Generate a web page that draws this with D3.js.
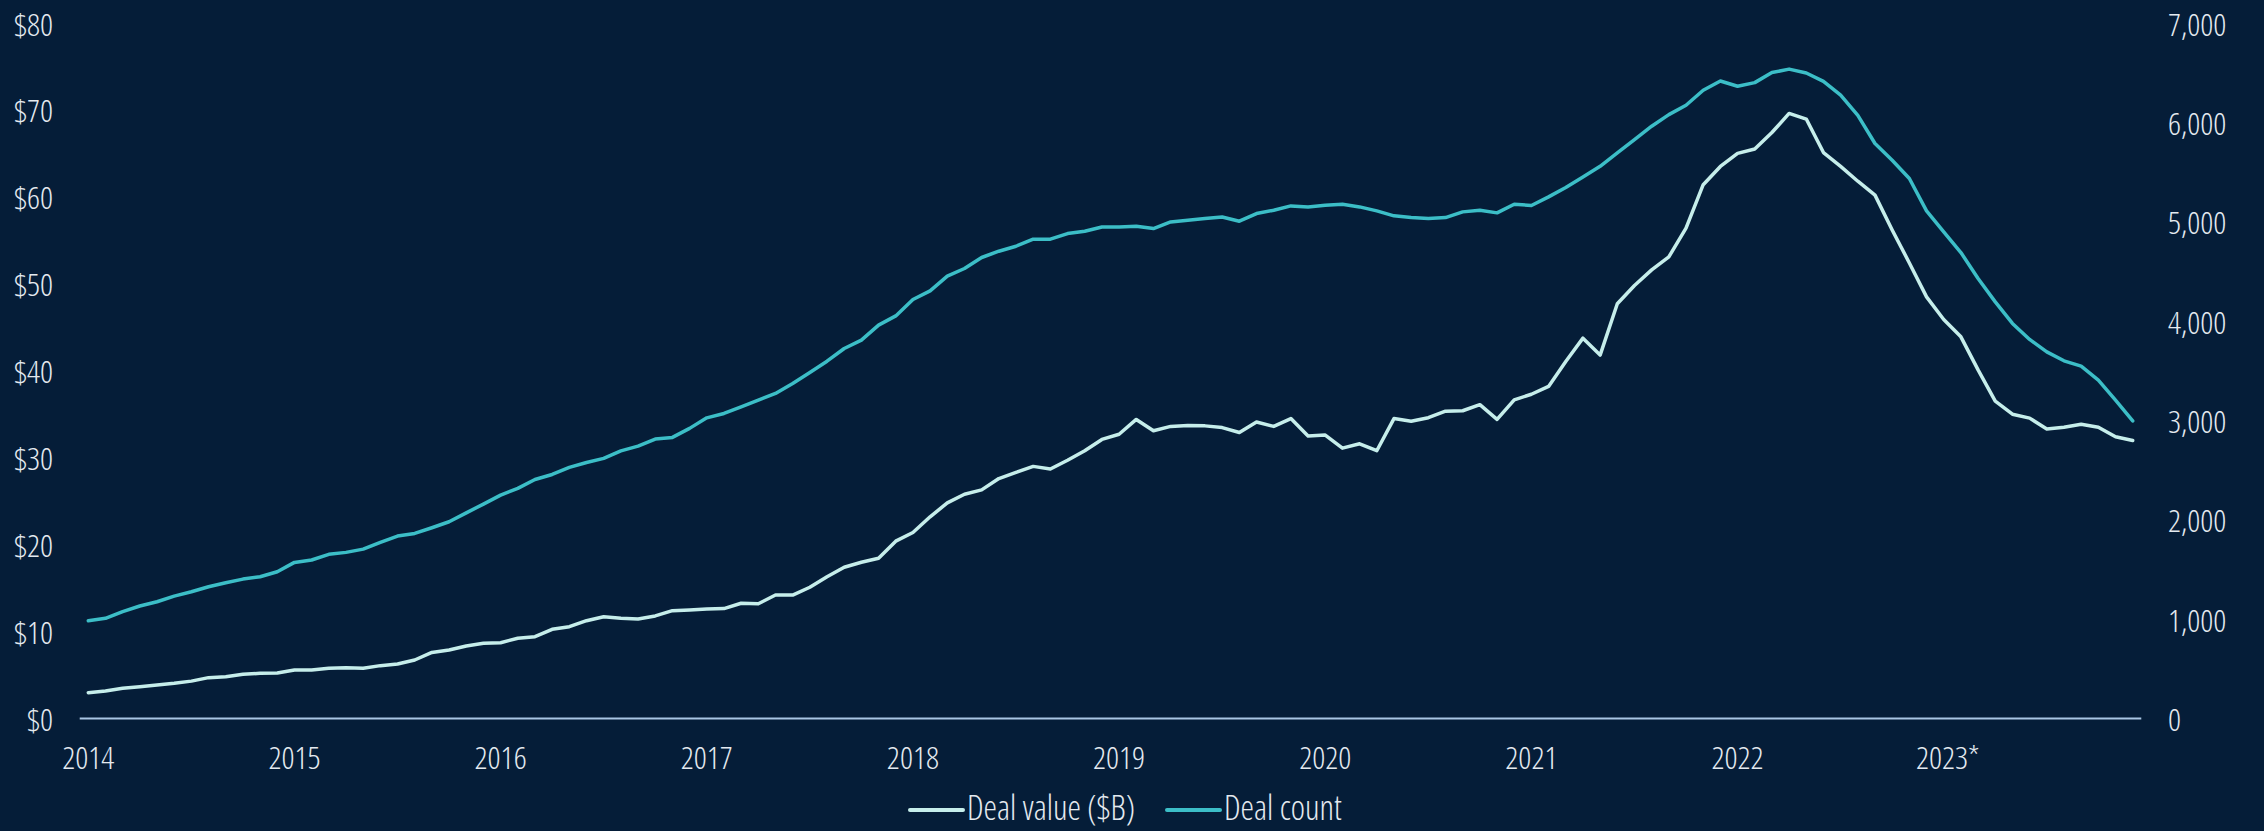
<!DOCTYPE html>
<html>
<head>
<meta charset="utf-8">
<script src="https://cdn.jsdelivr.net/npm/d3@7"></script>
<style>
  html, body { margin: 0; padding: 0; background: #051d38; }
  svg { display: block; }
  text { font-family: "Open Sans", "Liberation Sans Narrow", "DejaVu Sans Condensed", sans-serif; font-weight: 300; font-stretch: 75%; fill: #e4eaf0; font-size: 32px; }
  .legend text { font-size: 34px; }
</style>
</head>
<body>
<svg id="chart" width="2264" height="831"></svg>
<script>
// Monthly series, Jan 2014 – Dec 2023
const years = ["2014", "2015", "2016", "2017", "2018", "2019", "2020", "2021", "2022", "2023*"];

const dealValue = [
  2.97, 3.16, 3.47, 3.66, 3.85, 4.05, 4.3, 4.7, 4.8, 5.08, 5.2, 5.24,
  5.58, 5.58, 5.77, 5.85, 5.77, 6.08, 6.27, 6.73, 7.6, 7.88, 8.34, 8.65,
  8.72, 9.23, 9.41, 10.26, 10.56, 11.25, 11.71, 11.53, 11.45, 11.8, 12.4, 12.49,
  12.6, 12.64, 13.26, 13.2, 14.2, 14.2, 15.1, 16.3, 17.4, 17.97, 18.43, 20.4,
  21.4, 23.2, 24.8, 25.8, 26.3, 27.6, 28.3, 29.0, 28.7, 29.7, 30.8, 32.1,
  32.7, 34.4, 33.1, 33.6, 33.7, 33.66, 33.46, 32.9, 34.1, 33.6, 34.5, 32.5,
  32.6, 31.1, 31.6, 30.8, 34.5, 34.2, 34.6, 35.35, 35.4, 36.1, 34.4, 36.65,
  37.3, 38.2, 41.06, 43.75, 41.8, 47.7, 49.8, 51.6, 53.1, 56.4, 61.4, 63.5,
  65.0, 65.5, 67.4, 69.6, 68.95, 65.1, 63.5, 61.8, 60.2, 56.2, 52.4, 48.5,
  45.9, 43.9, 40.1, 36.5, 35.0, 34.55, 33.3, 33.5, 33.85, 33.5, 32.4, 31.97
];

const dealCount = [
  984, 1008, 1075, 1132, 1175, 1232, 1276, 1326, 1366, 1403, 1427, 1477,
  1571, 1595, 1652, 1672, 1705, 1773, 1836, 1863, 1920, 1980, 2070, 2158,
  2248, 2316, 2406, 2456, 2527, 2577, 2618, 2694, 2741, 2812, 2829, 2920,
  3026, 3070, 3137, 3204, 3272, 3372, 3483, 3596, 3724, 3808, 3959, 4052,
  4217, 4304, 4452, 4529, 4640, 4703, 4753, 4824, 4824, 4881, 4904, 4947,
  4947, 4955, 4931, 4998, 5015, 5032, 5048, 5005, 5082, 5116, 5159, 5149,
  5166, 5176, 5149, 5109, 5059, 5042, 5032, 5042, 5099, 5116, 5089, 5176,
  5163, 5250, 5344, 5451, 5558, 5692, 5827, 5961, 6078, 6172, 6323, 6416,
  6363, 6400, 6501, 6536, 6497, 6413, 6273, 6071, 5787, 5619, 5435, 5109,
  4897, 4690, 4429, 4193, 3976, 3815, 3690, 3600, 3546, 3405, 3204, 2996
];

const valueTicks = [0, 10, 20, 30, 40, 50, 60, 70, 80];
const countTicks = [0, 1000, 2000, 3000, 4000, 5000, 6000, 7000];
const seriesNames = ["Deal value ($B)", "Deal count"];

const colors = { value: "#c6eeeb", count: "#3cbec7", axis: "#a9c6e4" };

const svg = d3.select("#chart");

const x = d3.scaleLinear().domain([0, dealValue.length - 1]).range([88.3, 2132.7]);
const yValue = d3.scaleLinear().domain([0, 80]).range([718.5, 23]);
const yCount = d3.scaleLinear().domain([0, 7000]).range([718.5, 23]);

// baseline
svg.append("line")
  .attr("x1", x(-0.5)).attr("x2", x(dealValue.length - 0.5))
  .attr("y1", yValue(0)).attr("y2", yValue(0))
  .attr("stroke", colors.axis).attr("stroke-width", 2);

// left axis labels
svg.append("g").selectAll("text").data(valueTicks).join("text")
  .attr("x", 53).attr("y", d => yValue(d))
  .attr("text-anchor", "end").attr("dominant-baseline", "central")
  .text(d => "$" + d);

// right axis labels
svg.append("g").selectAll("text").data(countTicks).join("text")
  .attr("x", 2168).attr("y", d => yCount(d))
  .attr("text-anchor", "start").attr("dominant-baseline", "central")
  .text(d => d3.format(",")(d));

// year labels
svg.append("g").selectAll("text").data(years).join("text")
  .attr("x", (d, i) => x(i * 12) + (d.endsWith("*") ? 4 : 0))
  .attr("y", 756)
  .attr("text-anchor", "middle").attr("dominant-baseline", "central")
  .text(d => d);

// lines
const lineValue = d3.line().x((d, i) => x(i)).y(d => yValue(d));
const lineCount = d3.line().x((d, i) => x(i)).y(d => yCount(d));

svg.append("path").datum(dealCount)
  .attr("d", lineCount).attr("fill", "none")
  .attr("stroke", colors.count).attr("stroke-width", 3.5)
  .attr("stroke-linejoin", "round").attr("stroke-linecap", "round");

svg.append("path").datum(dealValue)
  .attr("d", lineValue).attr("fill", "none")
  .attr("stroke", colors.value).attr("stroke-width", 3.5)
  .attr("stroke-linejoin", "round").attr("stroke-linecap", "round");

// legend
const legend = svg.append("g").attr("class", "legend");
const legendItems = [
  { name: seriesNames[0], color: colors.value, x: 910 },
  { name: seriesNames[1], color: colors.count, x: 1167 }
];
legendItems.forEach(item => {
  legend.append("line")
    .attr("x1", item.x).attr("x2", item.x + 53)
    .attr("y1", 810).attr("y2", 810)
    .attr("stroke", item.color).attr("stroke-width", 4).attr("stroke-linecap", "round");
  legend.append("text")
    .attr("x", item.x + 57).attr("y", 807)
    .attr("dominant-baseline", "central")
    .text(item.name);
});
</script>
</body>
</html>
